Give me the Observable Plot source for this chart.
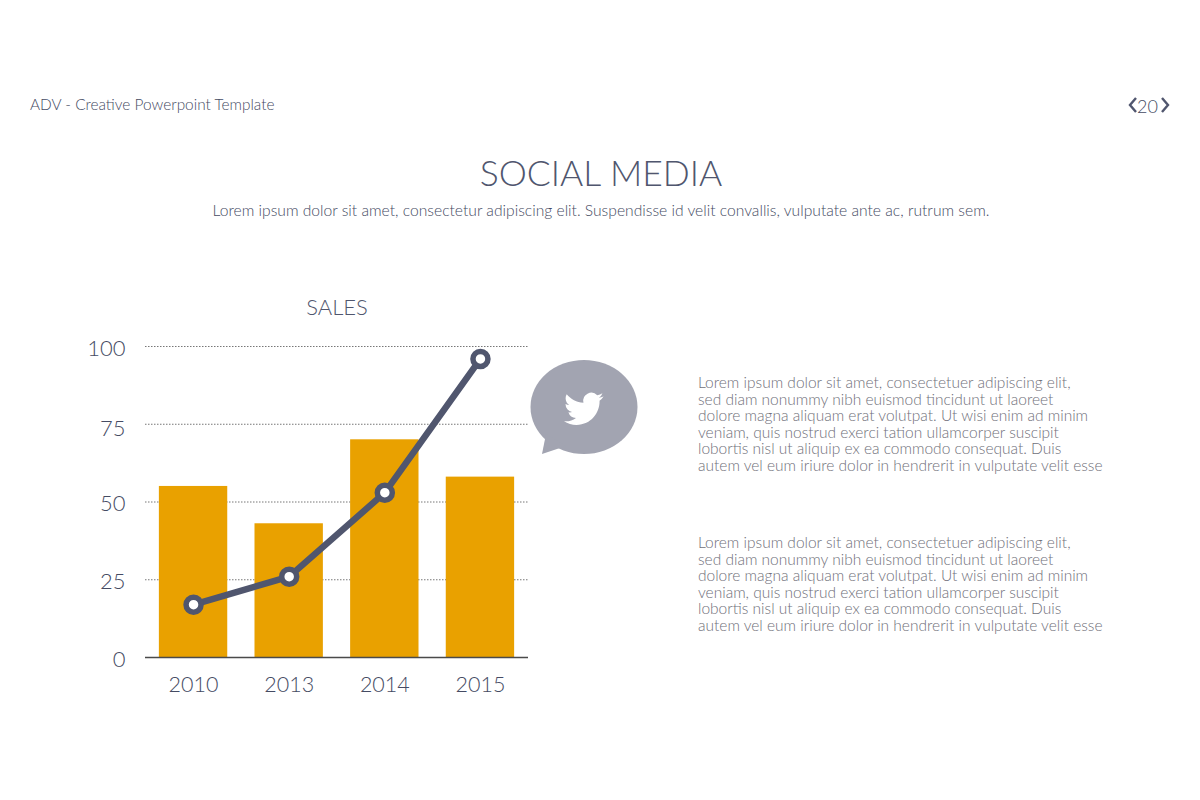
<!DOCTYPE html>
<html>
<head>
<meta charset="utf-8">
<script src="https://cdn.jsdelivr.net/npm/d3@7"></script>
<script src="https://cdn.jsdelivr.net/npm/@observablehq/plot@0.6"></script>
<style>
html,body{margin:0;padding:0;background:#fff;width:1200px;height:800px;overflow:hidden;font-family:Lato,"Open Sans",sans-serif;color:#50566e}
.t{position:absolute;white-space:nowrap;line-height:1;font-weight:300}
#chart{position:absolute;left:0;top:300px}
#chart svg{background:transparent}
.body{color:#70707a;font-size:15.5px;line-height:16.6px;white-space:pre;left:698px}
</style>
</head>
<body>
<div class="t" style="left:30px;top:97px;font-size:15.4px;color:#454b63">ADV - Creative Powerpoint Template</div>
<div class="t" style="left:1137px;top:97px;font-size:18px;color:#454b63">20</div>
<svg style="position:absolute;left:1125px;top:94px" width="50" height="24" fill="none" stroke="#50566e" stroke-width="2.4">
  <path d="M11 4 L5 11 L11 18"/><path d="M37 4 L43 11 L37 18"/>
</svg>
<div class="t" style="left:0;width:1202px;text-align:center;top:155px;font-size:35.5px">SOCIAL MEDIA</div>
<div class="t" style="left:0;width:1202px;text-align:center;top:203px;font-size:15.65px;color:#454b63">Lorem ipsum dolor sit amet, consectetur adipiscing elit. Suspendisse id velit convallis, vulputate ante ac, rutrum sem.</div>
<div class="t" style="left:137px;width:400px;text-align:center;top:296px;font-size:22px">SALES</div>
<div id="chart"></div>
<svg style="position:absolute;left:520px;top:350px" width="130" height="115">
  <g fill="#a2a4b1">
    <ellipse cx="64" cy="57" rx="53.5" ry="47"/>
    <path d="M26 84 L22 104 L46 96 Z"/>
  </g>
  <path fill="#fff" transform="translate(44,39) scale(1.65)" d="M23.953 4.57a10 10 0 01-2.825.775 4.958 4.958 0 002.163-2.723c-.951.555-2.005.959-3.127 1.184a4.92 4.92 0 00-8.384 4.482C7.69 8.095 4.067 6.13 1.64 3.162a4.822 4.822 0 00-.666 2.475c0 1.71.87 3.213 2.188 4.096a4.904 4.904 0 01-2.228-.616v.06a4.923 4.923 0 003.946 4.827 4.996 4.996 0 01-2.212.085 4.936 4.936 0 004.604 3.417 9.867 9.867 0 01-6.102 2.105c-.39 0-.779-.023-1.17-.067a13.995 13.995 0 007.557 2.209c9.053 0 13.998-7.496 13.998-13.985 0-.21 0-.42-.015-.63A9.935 9.935 0 0024 4.59z"/>
</svg>
<div class="t body" style="top:374px">Lorem ipsum dolor sit amet, consectetuer adipiscing elit,
sed diam nonummy nibh euismod tincidunt ut laoreet
dolore magna aliquam erat volutpat. Ut wisi enim ad minim
veniam, quis nostrud exerci tation ullamcorper suscipit
lobortis nisl ut aliquip ex ea commodo consequat. Duis
autem vel eum iriure dolor in hendrerit in vulputate velit esse</div>
<div class="t body" style="top:534px">Lorem ipsum dolor sit amet, consectetuer adipiscing elit,
sed diam nonummy nibh euismod tincidunt ut laoreet
dolore magna aliquam erat volutpat. Ut wisi enim ad minim
veniam, quis nostrud exerci tation ullamcorper suscipit
lobortis nisl ut aliquip ex ea commodo consequat. Duis
autem vel eum iriure dolor in hendrerit in vulputate velit esse</div>
<script>
const years = ["2010", "2013", "2014", "2015"];
const barValues = [55, 43, 70, 58];
const lineValues = [17, 26, 53, 96];
const yTicks = [0, 25, 50, 100];
const lowSetTicks = [75];
const gridTicks = [25, 50, 75, 100];

const rows = years.map((year, i) => ({year, bar: barValues[i], line: lineValues[i]}));
const ink = "#50566e";
const labelInk = "#454b63";
const yAxisStyle = {tickSize: 0, tickPadding: 20, fontSize: 22, fontWeight: 300, color: labelInk, label: null};

const plot = Plot.plot({
  width: 560,
  height: 400,
  marginLeft: 145,
  marginRight: 32,
  marginTop: 46,
  marginBottom: 43,
  style: {background: "transparent", fontFamily: "Lato, 'Open Sans', sans-serif", color: labelInk, overflow: "visible"},
  x: {domain: years, paddingInner: 0.285, paddingOuter: 0.145, round: false, label: null},
  y: {domain: [0, 100], label: null},
  marks: [
    Plot.ruleY(gridTicks, {stroke: "#777", strokeWidth: 1, strokeDasharray: "1.5 1.5"}),
    Plot.barY(rows, {x: "year", y: "bar", fill: "#e9a100"}),
    Plot.ruleY([0], {stroke: "#4a4a4a", strokeWidth: 1.5}),
    Plot.line(rows, {x: "year", y: "line", stroke: ink, strokeWidth: 6.5}),
    Plot.dot(rows, {x: "year", y: "line", r: 7.5, fill: "#fff", stroke: ink, strokeWidth: 5.5}),
    Plot.axisY({ticks: yTicks, dy: 2, ...yAxisStyle}),
    Plot.axisY({ticks: lowSetTicks, dy: 5, ...yAxisStyle}),
    Plot.axisX({tickSize: 0, tickPadding: 19, fontSize: 21.5, fontWeight: 300, color: labelInk, label: null})
  ]
});
document.getElementById("chart").appendChild(plot);
</script>
</body>
</html>
